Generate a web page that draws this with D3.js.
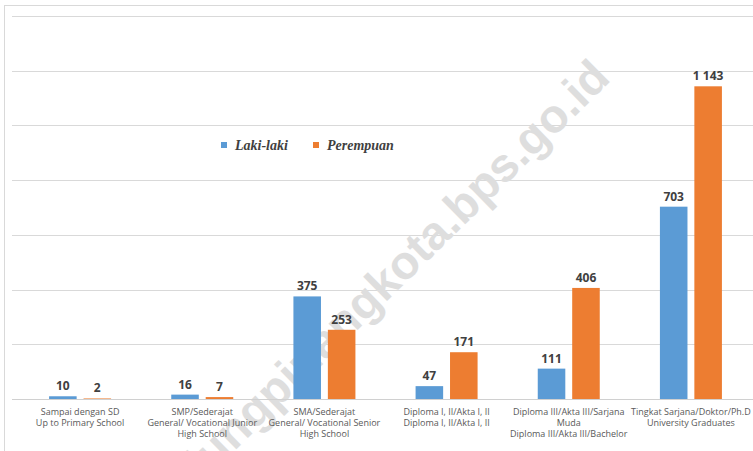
<!DOCTYPE html>
<html lang="id">
<head>
  <meta charset="UTF-8" />
  <title>Pendidikan menurut jenis kelamin</title>
  <script src="https://d3js.org/d3.v7.min.js"></script>
  <style>
    body { margin: 0; background: #fff; }
    .grid line { stroke: #d9d9d9; stroke-width: 1px; }
    .value { font: bold 12px "Open Sans", sans-serif; fill: #404040; }
    .cat { font: 9px "Open Sans", sans-serif; fill: #595959; }
    .legend text { font: bold italic 14px "Liberation Serif", serif; fill: #404040; }
    .wm { font: bold 47px "Liberation Sans", Arial, sans-serif; fill: #dedede; }
  </style>
</head>
<body>
<script>
  // Categories (two-language labels, one entry per line)
  const categories = [
    ["Sampai dengan SD", "Up to Primary School"],
    ["SMP/Sederajat", "General/ Vocational Junior", "High School"],
    ["SMA/Sederajat", "General/ Vocational Senior", "High School"],
    ["Diploma I, II/Akta I, II", "Diploma I, II/Akta I, II"],
    ["Diploma III/Akta III/Sarjana", "Muda", "Diploma III/Akta III/Bachelor"],
    ["Tingkat Sarjana/Doktor/Ph.D", "University Graduates"]
  ];
  const seriesNames = ["Laki-laki", "Perempuan"];
  const lakiLaki  = [10, 16, 375, 47, 111, 703];
  const perempuan = [2, 7, 253, 171, 406, 1143];
  const yTicks = [0, 200, 400, 600, 800, 1000, 1200, 1400];

  const colors = { "Laki-laki": "#5b9bd5", "Perempuan": "#ed7d31" };

  const width = 753, height = 451;
  const svg = d3.select("body").append("svg")
    .attr("width", width).attr("height", height);

  // chart frame (left / top edge visible in the picture)
  svg.append("rect")
    .attr("x", 4.5).attr("y", 5.5)
    .attr("width", 800).attr("height", 500)
    .attr("fill", "none").attr("stroke", "#d9d9d9");

  const catIds = categories.map((c, i) => i);
  const x0 = d3.scaleBand().domain(catIds).range([19, 752]);
  const x1 = d3.scaleBand().domain(seriesNames)
    .range([(x0.bandwidth() - 62) / 2, (x0.bandwidth() + 62) / 2])
    .paddingInner(0.2);
  const y = d3.scaleLinear().domain([0, 1400]).range([399, 16]);

  // gridlines
  svg.append("g").attr("class", "grid")
    .selectAll("line").data(yTicks).join("line")
      .attr("x1", 12).attr("x2", width)
      .attr("y1", d => Math.round(y(d)) + 0.5)
      .attr("y2", d => Math.round(y(d)) + 0.5);

  // watermark
  svg.append("text")
    .attr("class", "wm")
    .attr("text-anchor", "end")
    .attr("transform", "translate(612,80) rotate(-44.5)")
    .text("tanjungpinangkota.bps.go.id");

  const rows = catIds.map(i => ({ i, values: [
    { key: "Laki-laki", v: lakiLaki[i] },
    { key: "Perempuan", v: perempuan[i] }
  ]}));

  const fmt = d3.formatLocale({ decimal: ",", thousands: " ", grouping: [3], currency: ["", ""] }).format(",");

  const groups = svg.append("g").selectAll("g").data(rows).join("g")
    .attr("transform", d => `translate(${x0(d.i)},0)`);

  groups.selectAll("rect").data(d => d.values).join("rect")
    .attr("x", d => x1(d.key))
    .attr("width", x1.bandwidth())
    .attr("y", d => y(d.v))
    .attr("height", d => y(0) - y(d.v))
    .attr("fill", d => colors[d.key]);

  groups.selectAll("text.value").data(d => d.values).join("text")
    .attr("class", "value")
    .attr("text-anchor", "middle")
    .attr("x", d => x1(d.key) + x1.bandwidth() / 2)
    .attr("y", d => y(d.v) - 6)
    .text(d => fmt(d.v));

  // baseline
  svg.append("line")
    .attr("x1", 12).attr("x2", width)
    .attr("y1", Math.round(y(0)) + 0.5).attr("y2", Math.round(y(0)) + 0.5)
    .attr("stroke", "#d0d0d0");

  // category labels, one text per line
  const catLines = rows.flatMap(d => categories[d.i].map((line, k) => ({ i: d.i, k, line })));
  svg.append("g").selectAll("text").data(catLines).join("text")
    .attr("class", "cat")
    .attr("text-anchor", "middle")
    .attr("x", d => x0(d.i) + x0.bandwidth() / 2)
    .attr("y", d => 415 + d.k * 11)
    .text(d => d.line);

  // legend
  const legend = svg.append("g").attr("class", "legend")
    .attr("transform", "translate(221,145)");
  const lx = [0, 92];
  seriesNames.forEach((s, k) => {
    legend.append("rect")
      .attr("x", lx[k]).attr("y", -3)
      .attr("width", 6).attr("height", 6)
      .attr("fill", colors[s]);
    legend.append("text")
      .attr("x", lx[k] + 14).attr("y", 5)
      .text(s);
  });
</script>
</body>
</html>
